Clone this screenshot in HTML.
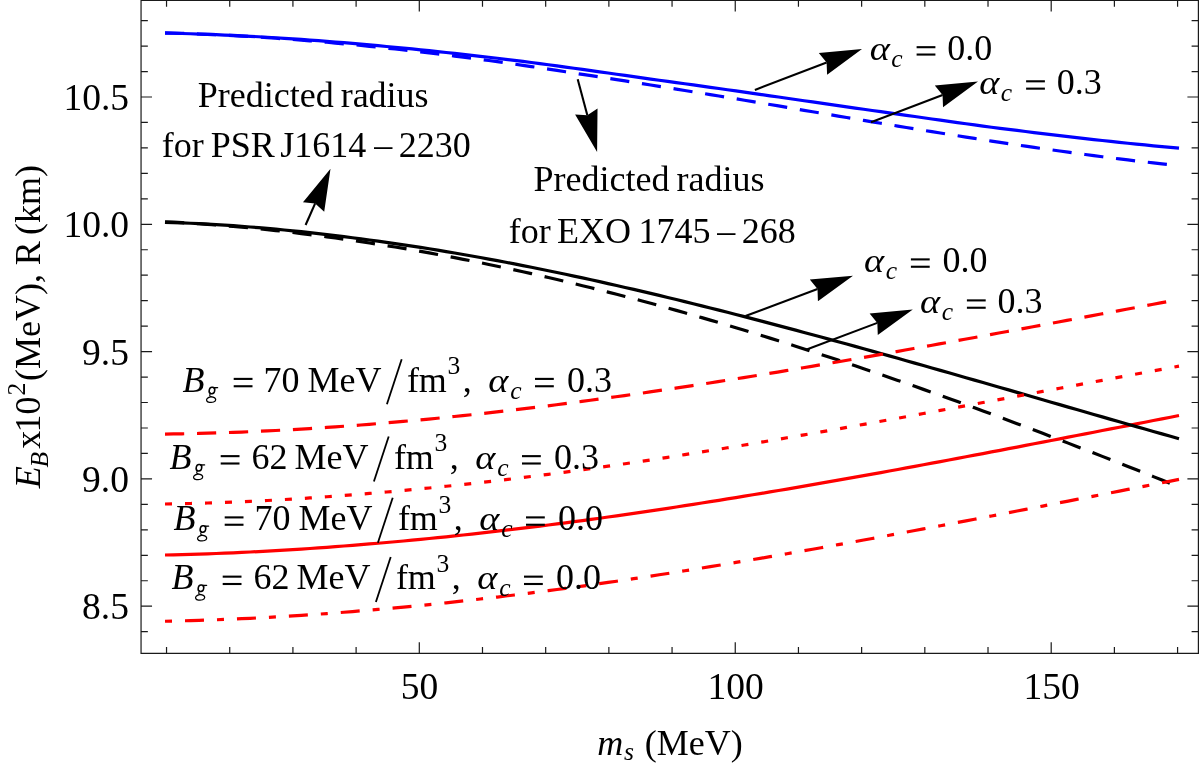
<!DOCTYPE html>
<html><head><meta charset="utf-8"><title>plot</title>
<style>html,body{margin:0;padding:0;background:#fff}svg{display:block;will-change:transform}text{font-family:"Liberation Serif",serif;fill:#000}</style>
</head><body>
<svg width="1199" height="763" viewBox="0 0 1199 763">
<rect width="1199" height="763" fill="#fff"/>
<path d="M165.0,555.00 L173.5,554.81 L182.0,554.59 L190.6,554.35 L199.1,554.08 L207.6,553.79 L216.1,553.48 L224.6,553.14 L233.2,552.78 L241.7,552.39 L250.2,551.98 L258.7,551.55 L267.3,551.10 L275.8,550.62 L284.3,550.12 L292.8,549.60 L301.3,549.05 L309.9,548.49 L318.4,547.90 L326.9,547.29 L335.4,546.66 L343.9,546.01 L352.5,545.34 L361.0,544.65 L369.5,543.96 L378.0,543.24 L386.5,542.50 L395.1,541.74 L403.6,540.97 L412.1,540.17 L420.6,539.36 L429.2,538.52 L437.7,537.67 L446.2,536.80 L454.7,535.91 L463.2,535.01 L471.8,534.08 L480.3,533.14 L488.8,532.18 L497.3,531.20 L505.8,530.21 L514.4,529.20 L522.9,528.18 L531.4,527.13 L539.9,526.08 L548.4,525.00 L557.0,523.91 L565.5,522.81 L574.0,521.69 L582.5,520.55 L591.1,519.40 L599.6,518.24 L608.1,517.04 L616.6,515.84 L625.1,514.61 L633.7,513.38 L642.2,512.13 L650.7,510.87 L659.2,509.59 L667.7,508.31 L676.3,507.01 L684.8,505.69 L693.3,504.37 L701.8,503.03 L710.3,501.68 L718.9,500.32 L727.4,498.95 L735.9,497.57 L744.4,496.17 L752.9,494.77 L761.5,493.35 L770.0,491.93 L778.5,490.49 L787.0,489.05 L795.6,487.59 L804.1,486.13 L812.6,484.65 L821.1,483.17 L829.6,481.68 L838.2,480.18 L846.7,478.67 L855.2,477.15 L863.7,475.63 L872.2,474.10 L880.8,472.56 L889.3,471.01 L897.8,469.45 L906.3,467.89 L914.8,466.32 L923.4,464.75 L931.9,463.17 L940.4,461.58 L948.9,459.99 L957.5,458.39 L966.0,456.79 L974.5,455.18 L983.0,453.56 L991.5,451.94 L1000.1,450.32 L1008.6,448.69 L1017.1,447.06 L1025.6,445.42 L1034.1,443.78 L1042.7,442.14 L1051.2,440.49 L1059.7,438.84 L1068.2,437.19 L1076.7,435.54 L1085.3,433.88 L1093.8,432.22 L1102.3,430.55 L1110.8,428.89 L1119.4,427.22 L1127.9,425.56 L1136.4,423.89 L1144.9,422.22 L1153.4,420.55 L1162.0,418.88 L1170.5,417.21 L1179.0,415.54" fill="none" stroke="#ff0000" stroke-width="3.2"/>
<path d="M165.0,222.31 L173.5,222.58 L182.0,222.90 L190.6,223.27 L199.1,223.68 L207.6,224.12 L216.1,224.61 L224.6,225.15 L233.2,225.72 L241.7,226.33 L250.2,226.98 L258.7,227.67 L267.3,228.40 L275.8,229.17 L284.3,229.98 L292.8,230.82 L301.3,231.71 L309.9,232.62 L318.4,233.58 L326.9,234.57 L335.4,235.60 L343.9,236.66 L352.5,237.75 L361.0,238.84 L369.5,239.97 L378.0,241.13 L386.5,242.32 L395.1,243.55 L403.6,244.81 L412.1,246.10 L420.6,247.42 L429.2,248.78 L437.7,250.16 L446.2,251.57 L454.7,253.02 L463.2,254.49 L471.8,255.99 L480.3,257.52 L488.8,259.08 L497.3,260.66 L505.8,262.27 L514.4,263.91 L522.9,265.58 L531.4,267.27 L539.9,268.98 L548.4,270.73 L557.0,272.49 L565.5,274.28 L574.0,276.09 L582.5,277.93 L591.1,279.79 L599.6,281.67 L608.1,283.57 L616.6,285.50 L625.1,287.44 L633.7,289.41 L642.2,291.40 L650.7,293.40 L659.2,295.43 L667.7,297.47 L676.3,299.54 L684.8,301.62 L693.3,303.72 L701.8,305.83 L710.3,307.97 L718.9,310.12 L727.4,312.28 L735.9,314.46 L744.4,316.66 L752.9,318.87 L761.5,321.09 L770.0,323.33 L778.5,325.59 L787.0,327.85 L795.6,330.13 L804.1,332.42 L812.6,334.72 L821.1,337.03 L829.6,339.36 L838.2,341.69 L846.7,344.04 L855.2,346.39 L863.7,348.75 L872.2,351.12 L880.8,353.50 L889.3,355.89 L897.8,358.29 L906.3,360.69 L914.8,363.10 L923.4,365.51 L931.9,367.93 L940.4,370.36 L948.9,372.79 L957.5,375.23 L966.0,377.67 L974.5,380.11 L983.0,382.55 L991.5,385.00 L1000.1,387.45 L1008.6,389.91 L1017.1,392.36 L1025.6,394.82 L1034.1,397.27 L1042.7,399.73 L1051.2,402.19 L1059.7,404.64 L1068.2,407.10 L1076.7,409.55 L1085.3,412.00 L1093.8,414.45 L1102.3,416.90 L1110.8,419.34 L1119.4,421.78 L1127.9,424.21 L1136.4,426.64 L1144.9,429.07 L1153.4,431.49 L1162.0,433.90 L1170.5,436.31 L1179.0,438.71" fill="none" stroke="#000" stroke-width="3.2"/>
<path d="M165.0,221.79 L173.5,222.22 L182.0,222.70 L190.6,223.21 L199.1,223.77 L207.6,224.37 L216.1,225.01 L224.6,225.69 L233.2,226.40 L241.7,227.16 L250.2,227.96 L258.7,228.79 L267.3,229.67 L275.8,230.58 L284.3,231.53 L292.8,232.51 L301.3,233.54 L309.9,234.60 L318.4,235.70 L326.9,236.84 L335.4,238.01 L343.9,239.22 L352.5,240.45 L361.0,241.70 L369.5,242.98 L378.0,244.29 L386.5,245.64 L395.1,247.02 L403.6,248.44 L412.1,249.89 L420.6,251.38 L429.2,252.90 L437.7,254.45 L446.2,256.04 L454.7,257.65 L463.2,259.31 L471.8,260.99 L480.3,262.70 L488.8,264.45 L497.3,266.23 L505.8,268.04 L514.4,269.88 L522.9,271.75 L531.4,273.65 L539.9,275.58 L548.4,277.54 L557.0,279.54 L565.5,281.56 L574.0,283.60 L582.5,285.68 L591.1,287.79 L599.6,289.92 L608.1,292.09 L616.6,294.28 L625.1,296.50 L633.7,298.74 L642.2,301.01 L650.7,303.31 L659.2,305.64 L667.7,307.99 L676.3,310.37 L684.8,312.77 L693.3,315.20 L701.8,317.65 L710.3,320.13 L718.9,322.63 L727.4,325.16 L735.9,327.71 L744.4,330.28 L752.9,332.88 L761.5,335.50 L770.0,338.15 L778.5,340.81 L787.0,343.50 L795.6,346.22 L804.1,348.95 L812.6,351.70 L821.1,354.48 L829.6,357.28 L838.2,360.10 L846.7,362.94 L855.2,365.80 L863.7,368.68 L872.2,371.58 L880.8,374.49 L889.3,377.43 L897.8,380.39 L906.3,383.37 L914.8,386.36 L923.4,389.37 L931.9,392.40 L940.4,395.45 L948.9,398.52 L957.5,401.60 L966.0,404.70 L974.5,407.82 L983.0,410.95 L991.5,414.10 L1000.1,417.26 L1008.6,420.44 L1017.1,423.64 L1025.6,426.85 L1034.1,430.07 L1042.7,433.31 L1051.2,436.57 L1059.7,439.83 L1068.2,443.12 L1076.7,446.41 L1085.3,449.72 L1093.8,453.04 L1102.3,456.37 L1110.8,459.72 L1119.4,463.08 L1127.9,466.45 L1136.4,469.83 L1144.9,473.22 L1153.4,476.63 L1162.0,480.04 L1170.5,483.47 L1179.0,486.90" fill="none" stroke="#000" stroke-width="3.2" stroke-dasharray="19.2 12.8"/>
<path d="M165.0,33.05 L173.5,33.25 L182.0,33.48 L190.6,33.74 L199.1,34.03 L207.6,34.34 L216.1,34.68 L224.6,35.04 L233.2,35.44 L241.7,35.85 L250.2,36.29 L258.7,36.76 L267.3,37.25 L275.8,37.77 L284.3,38.31 L292.8,38.87 L301.3,39.45 L309.9,40.06 L318.4,40.69 L326.9,41.34 L335.4,42.01 L343.9,42.70 L352.5,43.42 L361.0,44.15 L369.5,44.90 L378.0,45.67 L386.5,46.47 L395.1,47.27 L403.6,48.10 L412.1,48.95 L420.6,49.81 L429.2,50.69 L437.7,51.58 L446.2,52.50 L454.7,53.42 L463.2,54.37 L471.8,55.32 L480.3,56.29 L488.8,57.28 L497.3,58.28 L505.8,59.29 L514.4,60.32 L522.9,61.38 L531.4,62.50 L539.9,63.62 L548.4,64.76 L557.0,65.91 L565.5,67.07 L574.0,68.24 L582.5,69.42 L591.1,70.61 L599.6,71.81 L608.1,73.02 L616.6,74.23 L625.1,75.45 L633.7,76.69 L642.2,77.90 L650.7,79.06 L659.2,80.23 L667.7,81.40 L676.3,82.58 L684.8,83.76 L693.3,84.95 L701.8,86.14 L710.3,87.33 L718.9,88.53 L727.4,89.73 L735.9,90.94 L744.4,92.15 L752.9,93.36 L761.5,94.57 L770.0,95.80 L778.5,97.03 L787.0,98.25 L795.6,99.48 L804.1,100.71 L812.6,101.94 L821.1,103.17 L829.6,104.39 L838.2,105.62 L846.7,106.84 L855.2,108.06 L863.7,109.27 L872.2,110.48 L880.8,111.69 L889.3,112.89 L897.8,114.09 L906.3,115.31 L914.8,116.54 L923.4,117.75 L931.9,118.97 L940.4,120.17 L948.9,121.37 L957.5,122.56 L966.0,123.74 L974.5,124.92 L983.0,126.08 L991.5,127.23 L1000.1,128.32 L1008.6,129.39 L1017.1,130.46 L1025.6,131.52 L1034.1,132.57 L1042.7,133.60 L1051.2,134.63 L1059.7,135.64 L1068.2,136.64 L1076.7,137.63 L1085.3,138.60 L1093.8,139.56 L1102.3,140.50 L1110.8,141.42 L1119.4,142.33 L1127.9,143.22 L1136.4,144.09 L1144.9,144.95 L1153.4,145.79 L1162.0,146.61 L1170.5,147.42 L1179.0,148.21" fill="none" stroke="#0000ff" stroke-width="3.2"/>
<path d="M165.0,32.92 L173.5,33.14 L182.0,33.39 L190.6,33.67 L199.1,33.99 L207.6,34.34 L216.1,34.72 L224.6,35.13 L233.2,35.57 L241.7,36.05 L250.2,36.55 L258.7,37.08 L267.3,37.65 L275.8,38.24 L284.3,38.86 L292.8,39.50 L301.3,40.17 L309.9,40.85 L318.4,41.56 L326.9,42.28 L335.4,43.04 L343.9,43.82 L352.5,44.63 L361.0,45.46 L369.5,46.31 L378.0,47.19 L386.5,48.09 L395.1,49.01 L403.6,49.96 L412.1,50.92 L420.6,51.91 L429.2,52.92 L437.7,53.95 L446.2,55.00 L454.7,56.07 L463.2,57.15 L471.8,58.26 L480.3,59.38 L488.8,60.52 L497.3,61.68 L505.8,62.88 L514.4,64.10 L522.9,65.34 L531.4,66.59 L539.9,67.86 L548.4,69.14 L557.0,70.44 L565.5,71.75 L574.0,73.07 L582.5,74.39 L591.1,75.68 L599.6,76.98 L608.1,78.30 L616.6,79.62 L625.1,80.95 L633.7,82.29 L642.2,83.64 L650.7,85.00 L659.2,86.36 L667.7,87.72 L676.3,89.09 L684.8,90.46 L693.3,91.84 L701.8,93.23 L710.3,94.62 L718.9,96.01 L727.4,97.41 L735.9,98.81 L744.4,100.22 L752.9,101.63 L761.5,103.05 L770.0,104.50 L778.5,105.95 L787.0,107.40 L795.6,108.85 L804.1,110.30 L812.6,111.75 L821.1,113.20 L829.6,114.65 L838.2,116.09 L846.7,117.54 L855.2,118.97 L863.7,120.41 L872.2,121.84 L880.8,123.26 L889.3,124.68 L897.8,126.09 L906.3,127.50 L914.8,128.89 L923.4,130.28 L931.9,131.67 L940.4,133.04 L948.9,134.40 L957.5,135.76 L966.0,137.10 L974.5,138.43 L983.0,139.75 L991.5,141.06 L1000.1,142.36 L1008.6,143.64 L1017.1,144.91 L1025.6,146.17 L1034.1,147.41 L1042.7,148.63 L1051.2,149.84 L1059.7,151.04 L1068.2,152.21 L1076.7,153.37 L1085.3,154.51 L1093.8,155.64 L1102.3,156.74 L1110.8,157.82 L1119.4,158.89 L1127.9,159.93 L1136.4,160.95 L1144.9,161.95 L1153.4,162.93 L1162.0,163.88 L1170.5,164.82 L1179.0,165.72" fill="none" stroke="#0000ff" stroke-width="3.2" stroke-dasharray="19.2 12.8"/>
<path d="M165.0,434.09 L173.5,433.97 L182.0,433.82 L190.5,433.64 L199.0,433.44 L207.5,433.21 L216.1,432.96 L224.6,432.68 L233.1,432.37 L241.6,432.05 L250.1,431.69 L258.6,431.32 L267.1,430.91 L275.6,430.49 L284.1,430.04 L292.6,429.57 L301.1,429.08 L309.6,428.56 L318.2,428.02 L326.7,427.46 L335.2,426.87 L343.7,426.27 L352.2,425.64 L360.7,424.99 L369.2,424.32 L377.7,423.63 L386.2,422.92 L394.7,422.18 L403.2,421.43 L411.7,420.66 L420.3,419.87 L428.8,419.06 L437.3,418.23 L445.8,417.38 L454.3,416.51 L462.8,415.63 L471.3,414.72 L479.8,413.80 L488.3,412.86 L496.8,411.90 L505.3,410.93 L513.8,409.93 L522.4,408.93 L530.9,407.90 L539.4,406.86 L547.9,405.80 L556.4,404.73 L564.9,403.64 L573.4,402.53 L581.9,401.42 L590.4,400.28 L598.9,399.13 L607.4,397.97 L615.9,396.79 L624.5,395.60 L633.0,394.39 L641.5,393.18 L650.0,391.94 L658.5,390.70 L667.0,389.44 L675.5,388.17 L684.0,386.89 L692.5,385.60 L701.0,384.29 L709.5,382.97 L718.0,381.64 L726.6,380.30 L735.1,378.95 L743.6,377.59 L752.1,376.22 L760.6,374.84 L769.1,373.45 L777.6,372.05 L786.1,370.64 L794.6,369.22 L803.1,367.79 L811.6,366.35 L820.1,364.90 L828.7,363.45 L837.2,361.99 L845.7,360.52 L854.2,359.04 L862.7,357.56 L871.2,356.07 L879.7,354.57 L888.2,353.07 L896.7,351.55 L905.2,350.04 L913.7,348.52 L922.2,346.99 L930.8,345.45 L939.3,343.92 L947.8,342.37 L956.3,340.83 L964.8,339.27 L973.3,337.72 L981.8,336.16 L990.3,334.59 L998.8,333.03 L1007.3,331.45 L1015.8,329.88 L1024.3,328.31 L1032.9,326.73 L1041.4,325.15 L1049.9,323.56 L1058.4,321.98 L1066.9,320.39 L1075.4,318.81 L1083.9,317.22 L1092.4,315.63 L1100.9,314.04 L1109.4,312.45 L1117.9,310.86 L1126.4,309.27 L1135.0,307.68 L1143.5,306.09 L1152.0,304.51 L1160.5,302.92 L1169.0,301.33 L1177.5,299.75" fill="none" stroke="#ff0000" stroke-width="3.2" stroke-dasharray="19.2 12.8"/>
<path d="M165.0,504.00 L173.5,503.85 L182.0,503.68 L190.6,503.48 L199.1,503.26 L207.6,503.00 L216.1,502.72 L224.6,502.42 L233.2,502.09 L241.7,501.73 L250.2,501.34 L258.7,500.93 L267.3,500.50 L275.8,500.04 L284.3,499.56 L292.8,499.05 L301.3,498.51 L309.9,497.96 L318.4,497.38 L326.9,496.77 L335.4,496.15 L343.9,495.50 L352.5,494.83 L361.0,494.14 L369.5,493.44 L378.0,492.73 L386.5,491.99 L395.1,491.23 L403.6,490.45 L412.1,489.65 L420.6,488.84 L429.2,488.00 L437.7,487.14 L446.2,486.26 L454.7,485.36 L463.2,484.44 L471.8,483.51 L480.3,482.55 L488.8,481.58 L497.3,480.59 L505.8,479.58 L514.4,478.56 L522.9,477.52 L531.4,476.46 L539.9,475.38 L548.4,474.29 L557.0,473.18 L565.5,472.06 L574.0,470.92 L582.5,469.77 L591.1,468.60 L599.6,467.42 L608.1,466.20 L616.6,464.97 L625.1,463.72 L633.7,462.46 L642.2,461.19 L650.7,459.91 L659.2,458.61 L667.7,457.30 L676.3,455.97 L684.8,454.64 L693.3,453.29 L701.8,451.93 L710.3,450.56 L718.9,449.18 L727.4,447.79 L735.9,446.39 L744.4,444.98 L752.9,443.56 L761.5,442.13 L770.0,440.69 L778.5,439.25 L787.0,437.79 L795.6,436.33 L804.1,434.85 L812.6,433.37 L821.1,431.88 L829.6,430.39 L838.2,428.89 L846.7,427.38 L855.2,425.86 L863.7,424.34 L872.2,422.81 L880.8,421.28 L889.3,419.74 L897.8,418.20 L906.3,416.65 L914.8,415.10 L923.4,413.54 L931.9,411.98 L940.4,410.41 L948.9,408.84 L957.5,407.27 L966.0,405.70 L974.5,404.12 L983.0,402.54 L991.5,400.96 L1000.1,399.37 L1008.6,397.79 L1017.1,396.20 L1025.6,394.61 L1034.1,393.02 L1042.7,391.44 L1051.2,389.85 L1059.7,388.26 L1068.2,386.67 L1076.7,385.08 L1085.3,383.49 L1093.8,381.91 L1102.3,380.32 L1110.8,378.74 L1119.4,377.16 L1127.9,375.58 L1136.4,374.00 L1144.9,372.43 L1153.4,370.86 L1162.0,369.29 L1170.5,367.72 L1179.0,366.16" fill="none" stroke="#ff0000" stroke-width="3.2" stroke-dasharray="7 13"/>
<path d="M165.0,621.23 L173.5,621.05 L182.0,620.85 L190.6,620.62 L199.1,620.36 L207.6,620.08 L216.1,619.77 L224.6,619.44 L233.2,619.08 L241.7,618.70 L250.2,618.29 L258.7,617.86 L267.3,617.40 L275.8,616.92 L284.3,616.42 L292.8,615.89 L301.3,615.34 L309.9,614.76 L318.4,614.17 L326.9,613.55 L335.4,612.91 L343.9,612.24 L352.5,611.56 L361.0,610.85 L369.5,610.14 L378.0,609.40 L386.5,608.65 L395.1,607.87 L403.6,607.08 L412.1,606.26 L420.6,605.42 L429.2,604.57 L437.7,603.69 L446.2,602.80 L454.7,601.88 L463.2,600.95 L471.8,600.00 L480.3,599.03 L488.8,598.04 L497.3,597.04 L505.8,596.01 L514.4,594.97 L522.9,593.92 L531.4,592.84 L539.9,591.75 L548.4,590.65 L557.0,589.53 L565.5,588.39 L574.0,587.23 L582.5,586.06 L591.1,584.88 L599.6,583.68 L608.1,582.45 L616.6,581.21 L625.1,579.96 L633.7,578.69 L642.2,577.40 L650.7,576.10 L659.2,574.79 L667.7,573.47 L676.3,572.13 L684.8,570.79 L693.3,569.43 L701.8,568.05 L710.3,566.67 L718.9,565.27 L727.4,563.86 L735.9,562.45 L744.4,561.02 L752.9,559.58 L761.5,558.13 L770.0,556.67 L778.5,555.20 L787.0,553.72 L795.6,552.23 L804.1,550.73 L812.6,549.22 L821.1,547.71 L829.6,546.19 L838.2,544.65 L846.7,543.11 L855.2,541.57 L863.7,540.01 L872.2,538.45 L880.8,536.88 L889.3,535.30 L897.8,533.72 L906.3,532.13 L914.8,530.54 L923.4,528.94 L931.9,527.33 L940.4,525.72 L948.9,524.10 L957.5,522.48 L966.0,520.86 L974.5,519.23 L983.0,517.59 L991.5,515.96 L1000.1,514.31 L1008.6,512.67 L1017.1,511.02 L1025.6,509.37 L1034.1,507.72 L1042.7,506.06 L1051.2,504.40 L1059.7,502.74 L1068.2,501.08 L1076.7,499.42 L1085.3,497.75 L1093.8,496.09 L1102.3,494.42 L1110.8,492.75 L1119.4,491.09 L1127.9,489.42 L1136.4,487.75 L1144.9,486.09 L1153.4,484.42 L1162.0,482.76 L1170.5,481.09 L1179.0,479.43" fill="none" stroke="#ff0000" stroke-width="3.2" stroke-dasharray="7 13 19 13"/>
<path d="M141.05,0.5 L141.05,653.3 L1198.4,653.3 L1198.4,0.5 Z M166.54,653.3 v-6.3 M166.54,0.5 v6.3 M229.73,653.3 v-6.3 M229.73,0.5 v6.3 M292.92,653.3 v-6.3 M292.92,0.5 v6.3 M356.11,653.3 v-6.3 M356.11,0.5 v6.3 M419.30,653.3 v-11 M419.30,0.5 v11 M482.49,653.3 v-6.3 M482.49,0.5 v6.3 M545.68,653.3 v-6.3 M545.68,0.5 v6.3 M608.87,653.3 v-6.3 M608.87,0.5 v6.3 M672.06,653.3 v-6.3 M672.06,0.5 v6.3 M735.25,653.3 v-11 M735.25,0.5 v11 M798.44,653.3 v-6.3 M798.44,0.5 v6.3 M861.63,653.3 v-6.3 M861.63,0.5 v6.3 M924.82,653.3 v-6.3 M924.82,0.5 v6.3 M988.01,653.3 v-6.3 M988.01,0.5 v6.3 M1051.20,653.3 v-11 M1051.20,0.5 v11 M1114.39,653.3 v-6.3 M1114.39,0.5 v6.3 M1177.58,653.3 v-6.3 M1177.58,0.5 v6.3 M141.05,631.66 h6.8 M1198.4,631.66 h-6.8 M141.05,606.20 h11 M1198.4,606.20 h-11 M141.05,580.74 h6.8 M1198.4,580.74 h-6.8 M141.05,555.28 h6.8 M1198.4,555.28 h-6.8 M141.05,529.82 h6.8 M1198.4,529.82 h-6.8 M141.05,504.36 h6.8 M1198.4,504.36 h-6.8 M141.05,478.90 h11 M1198.4,478.90 h-11 M141.05,453.44 h6.8 M1198.4,453.44 h-6.8 M141.05,427.98 h6.8 M1198.4,427.98 h-6.8 M141.05,402.52 h6.8 M1198.4,402.52 h-6.8 M141.05,377.06 h6.8 M1198.4,377.06 h-6.8 M141.05,351.60 h11 M1198.4,351.60 h-11 M141.05,326.14 h6.8 M1198.4,326.14 h-6.8 M141.05,300.68 h6.8 M1198.4,300.68 h-6.8 M141.05,275.22 h6.8 M1198.4,275.22 h-6.8 M141.05,249.76 h6.8 M1198.4,249.76 h-6.8 M141.05,224.30 h11 M1198.4,224.30 h-11 M141.05,198.84 h6.8 M1198.4,198.84 h-6.8 M141.05,173.38 h6.8 M1198.4,173.38 h-6.8 M141.05,147.92 h6.8 M1198.4,147.92 h-6.8 M141.05,122.46 h6.8 M1198.4,122.46 h-6.8 M141.05,97.00 h11 M1198.4,97.00 h-11 M141.05,71.54 h6.8 M1198.4,71.54 h-6.8 M141.05,46.08 h6.8 M1198.4,46.08 h-6.8 M141.05,20.62 h6.8 M1198.4,20.62 h-6.8" fill="none" stroke="#1a1a1a" stroke-width="1.2"/>
<text x="63.38" y="109.90" font-size="37.5">10.5</text>
<text x="63.38" y="237.20" font-size="37.5">10.0</text>
<text x="82.12" y="364.50" font-size="37.5">9.5</text>
<text x="82.12" y="491.80" font-size="37.5">9.0</text>
<text x="82.12" y="619.10" font-size="37.5">8.5</text>
<text x="400.85" y="698.50" font-size="37.5">50</text>
<text x="707.42" y="698.50" font-size="37.5">100</text>
<text x="1023.38" y="698.50" font-size="37.5">150</text>
<line x1="754.90" y1="89.90" x2="826.60" y2="62.45" stroke="#000" stroke-width="2.1"/>
<path d="M862.00,48.90 L827.11,74.68 L826.60,62.45 L818.82,53.01 Z" fill="#000"/>
<line x1="871.00" y1="122.20" x2="942.57" y2="95.05" stroke="#000" stroke-width="2.1"/>
<path d="M978.00,81.60 L943.03,107.27 L942.57,95.05 L934.80,85.58 Z" fill="#000"/>
<line x1="745.50" y1="316.00" x2="817.51" y2="289.04" stroke="#000" stroke-width="2.1"/>
<path d="M853.00,275.75 L817.92,301.27 L817.51,289.04 L809.79,279.54 Z" fill="#000"/>
<line x1="806.00" y1="349.80" x2="877.34" y2="322.88" stroke="#000" stroke-width="2.1"/>
<path d="M912.80,309.50 L877.79,335.11 L877.34,322.88 L869.60,313.40 Z" fill="#000"/>
<line x1="305.60" y1="225.00" x2="315.16" y2="203.41" stroke="#000" stroke-width="2.1"/>
<path d="M330.50,168.75 L324.19,211.67 L315.16,203.41 L302.97,202.28 Z" fill="#000"/>
<line x1="577.70" y1="79.20" x2="587.33" y2="115.28" stroke="#000" stroke-width="2.1"/>
<path d="M597.10,151.90 L575.11,114.50 L587.33,115.28 L597.53,108.52 Z" fill="#000"/>
<text transform="translate(869.63,59.80) scale(1.065,0.935)" font-size="36" font-style="italic">α</text>
<text x="891.35" y="67.00" font-size="25.6" font-style="italic">c</text>
<rect x="916.60" y="46.15" width="18.8" height="2.1" fill="#000"/>
<rect x="916.60" y="53.50" width="18.8" height="2.1" fill="#000"/>
<text x="947.33" y="59.80" font-size="36">0.0</text>
<text transform="translate(979.13,93.90) scale(1.065,0.935)" font-size="36" font-style="italic">α</text>
<text x="1000.85" y="101.10" font-size="25.6" font-style="italic">c</text>
<rect x="1026.10" y="80.25" width="18.8" height="2.1" fill="#000"/>
<rect x="1026.10" y="87.60" width="18.8" height="2.1" fill="#000"/>
<text x="1056.83" y="93.90" font-size="36">0.3</text>
<text transform="translate(863.93,272.00) scale(1.065,0.935)" font-size="36" font-style="italic">α</text>
<text x="885.65" y="279.20" font-size="25.6" font-style="italic">c</text>
<rect x="910.90" y="258.35" width="18.8" height="2.1" fill="#000"/>
<rect x="910.90" y="265.70" width="18.8" height="2.1" fill="#000"/>
<text x="942.62" y="272.00" font-size="36">0.0</text>
<text transform="translate(919.93,313.00) scale(1.065,0.935)" font-size="36" font-style="italic">α</text>
<text x="941.65" y="320.20" font-size="25.6" font-style="italic">c</text>
<rect x="966.90" y="299.35" width="18.8" height="2.1" fill="#000"/>
<rect x="966.90" y="306.70" width="18.8" height="2.1" fill="#000"/>
<text x="997.62" y="313.00" font-size="36">0.3</text>
<text x="197.80" y="106.80" font-size="36">Predicted</text>
<text x="340.65" y="106.80" font-size="36">radius</text>
<text x="161.68" y="157.40" font-size="36">for</text>
<text x="210.80" y="157.40" font-size="36">PSR</text>
<text x="280.25" y="157.40" font-size="36">J1614</text>
<text x="374.25" y="157.40" font-size="36">–</text>
<text x="398.77" y="157.40" font-size="36">2230</text>
<text x="533.50" y="191.00" font-size="36">Predicted</text>
<text x="676.45" y="191.00" font-size="36">radius</text>
<text x="508.77" y="242.60" font-size="36">for</text>
<text x="557.10" y="242.60" font-size="36">EXO</text>
<text x="638.58" y="242.60" font-size="36">1745</text>
<text x="717.15" y="242.60" font-size="36">–</text>
<text x="741.67" y="242.60" font-size="36">268</text>
<text x="182.62" y="391.50" font-size="36" font-style="italic">B</text>
<g transform="translate(205.80,391.50)" fill="none" stroke="#000" stroke-linecap="round"><ellipse cx="6.15" cy="-1.0" rx="2.75" ry="3.25" transform="rotate(14 6.15 -1.0)" stroke-width="1.55"/><path d="M8.4,-3.75 L11.8,-3.85" stroke-width="1.3"/><path d="M4.9,1.9 C3.6,3.2 3.4,4.6 5.2,5.3" stroke-width="1.15"/><path d="M5.0,5.2 C7.6,5.6 10.0,6.4 9.9,8.3 C9.7,10.4 6.6,11.3 3.6,10.8 C0.9,10.3 0.1,8.6 1.3,7.1 C2.0,6.2 3.3,5.6 4.6,5.3" stroke-width="1.25"/></g>
<rect x="233.70" y="377.85" width="18.8" height="2.1" fill="#000"/>
<rect x="233.70" y="385.20" width="18.8" height="2.1" fill="#000"/>
<text x="263.52" y="391.50" font-size="36">70</text>
<text x="307.50" y="391.50" font-size="36">MeV</text>
<line x1="386.90" y1="404.30" x2="401.70" y2="359.20" stroke="#000" stroke-width="1.8"/>
<text x="406.88" y="391.50" font-size="36">fm</text>
<text x="447.45" y="374.10" font-size="25.6">3</text>
<text x="462.82" y="391.50" font-size="36">,</text>
<text transform="translate(488.24,391.50) scale(1.065,0.935)" font-size="36" font-style="italic">α</text>
<text x="510.25" y="398.70" font-size="25.6" font-style="italic">c</text>
<rect x="535.00" y="377.85" width="18.8" height="2.1" fill="#000"/>
<rect x="535.00" y="385.20" width="18.8" height="2.1" fill="#000"/>
<text x="567.12" y="391.50" font-size="36">0.3</text>
<text x="169.62" y="468.75" font-size="36" font-style="italic">B</text>
<g transform="translate(192.80,468.75)" fill="none" stroke="#000" stroke-linecap="round"><ellipse cx="6.15" cy="-1.0" rx="2.75" ry="3.25" transform="rotate(14 6.15 -1.0)" stroke-width="1.55"/><path d="M8.4,-3.75 L11.8,-3.85" stroke-width="1.3"/><path d="M4.9,1.9 C3.6,3.2 3.4,4.6 5.2,5.3" stroke-width="1.15"/><path d="M5.0,5.2 C7.6,5.6 10.0,6.4 9.9,8.3 C9.7,10.4 6.6,11.3 3.6,10.8 C0.9,10.3 0.1,8.6 1.3,7.1 C2.0,6.2 3.3,5.6 4.6,5.3" stroke-width="1.25"/></g>
<rect x="220.70" y="455.10" width="18.8" height="2.1" fill="#000"/>
<rect x="220.70" y="462.45" width="18.8" height="2.1" fill="#000"/>
<text x="251.40" y="468.75" font-size="36">62</text>
<text x="294.50" y="468.75" font-size="36">MeV</text>
<line x1="373.90" y1="481.55" x2="388.70" y2="436.45" stroke="#000" stroke-width="1.8"/>
<text x="393.88" y="468.75" font-size="36">fm</text>
<text x="434.45" y="451.35" font-size="25.6">3</text>
<text x="449.82" y="468.75" font-size="36">,</text>
<text transform="translate(475.24,468.75) scale(1.065,0.935)" font-size="36" font-style="italic">α</text>
<text x="497.25" y="475.95" font-size="25.6" font-style="italic">c</text>
<rect x="522.00" y="455.10" width="18.8" height="2.1" fill="#000"/>
<rect x="522.00" y="462.45" width="18.8" height="2.1" fill="#000"/>
<text x="554.12" y="468.75" font-size="36">0.3</text>
<text x="173.62" y="530.00" font-size="36" font-style="italic">B</text>
<g transform="translate(196.80,530.00)" fill="none" stroke="#000" stroke-linecap="round"><ellipse cx="6.15" cy="-1.0" rx="2.75" ry="3.25" transform="rotate(14 6.15 -1.0)" stroke-width="1.55"/><path d="M8.4,-3.75 L11.8,-3.85" stroke-width="1.3"/><path d="M4.9,1.9 C3.6,3.2 3.4,4.6 5.2,5.3" stroke-width="1.15"/><path d="M5.0,5.2 C7.6,5.6 10.0,6.4 9.9,8.3 C9.7,10.4 6.6,11.3 3.6,10.8 C0.9,10.3 0.1,8.6 1.3,7.1 C2.0,6.2 3.3,5.6 4.6,5.3" stroke-width="1.25"/></g>
<rect x="224.70" y="516.35" width="18.8" height="2.1" fill="#000"/>
<rect x="224.70" y="523.70" width="18.8" height="2.1" fill="#000"/>
<text x="254.52" y="530.00" font-size="36">70</text>
<text x="298.50" y="530.00" font-size="36">MeV</text>
<line x1="377.90" y1="542.80" x2="392.70" y2="497.70" stroke="#000" stroke-width="1.8"/>
<text x="397.88" y="530.00" font-size="36">fm</text>
<text x="438.45" y="512.60" font-size="25.6">3</text>
<text x="453.82" y="530.00" font-size="36">,</text>
<text transform="translate(479.24,530.00) scale(1.065,0.935)" font-size="36" font-style="italic">α</text>
<text x="501.25" y="537.20" font-size="25.6" font-style="italic">c</text>
<rect x="526.00" y="516.35" width="18.8" height="2.1" fill="#000"/>
<rect x="526.00" y="523.70" width="18.8" height="2.1" fill="#000"/>
<text x="558.12" y="530.00" font-size="36">0.0</text>
<text x="171.62" y="589.25" font-size="36" font-style="italic">B</text>
<g transform="translate(194.80,589.25)" fill="none" stroke="#000" stroke-linecap="round"><ellipse cx="6.15" cy="-1.0" rx="2.75" ry="3.25" transform="rotate(14 6.15 -1.0)" stroke-width="1.55"/><path d="M8.4,-3.75 L11.8,-3.85" stroke-width="1.3"/><path d="M4.9,1.9 C3.6,3.2 3.4,4.6 5.2,5.3" stroke-width="1.15"/><path d="M5.0,5.2 C7.6,5.6 10.0,6.4 9.9,8.3 C9.7,10.4 6.6,11.3 3.6,10.8 C0.9,10.3 0.1,8.6 1.3,7.1 C2.0,6.2 3.3,5.6 4.6,5.3" stroke-width="1.25"/></g>
<rect x="222.70" y="575.60" width="18.8" height="2.1" fill="#000"/>
<rect x="222.70" y="582.95" width="18.8" height="2.1" fill="#000"/>
<text x="253.40" y="589.25" font-size="36">62</text>
<text x="296.50" y="589.25" font-size="36">MeV</text>
<line x1="375.90" y1="602.05" x2="390.70" y2="556.95" stroke="#000" stroke-width="1.8"/>
<text x="395.88" y="589.25" font-size="36">fm</text>
<text x="436.45" y="571.85" font-size="25.6">3</text>
<text x="451.82" y="589.25" font-size="36">,</text>
<text transform="translate(477.24,589.25) scale(1.065,0.935)" font-size="36" font-style="italic">α</text>
<text x="499.25" y="596.45" font-size="25.6" font-style="italic">c</text>
<rect x="524.00" y="575.60" width="18.8" height="2.1" fill="#000"/>
<rect x="524.00" y="582.95" width="18.8" height="2.1" fill="#000"/>
<text x="556.12" y="589.25" font-size="36">0.0</text>
<text x="597.25" y="754.50" font-size="36" font-style="italic">m</text>
<text x="624.12" y="760.20" font-size="25.6" font-style="italic">s</text>
<text x="644.67" y="754.50" font-size="36">(MeV)</text>
<g transform="translate(39.7,486.3) rotate(-90)"><text x="-1.83" y="0.00" font-size="36" font-style="italic">E</text><text x="18.75" y="8.00" font-size="25.6" font-style="italic">B</text><text x="37.65" y="0.00" font-size="36">x</text><text x="53.88" y="0.00" font-size="36">10</text><text x="90.88" y="-14.40" font-size="25.6">2</text><text x="105.38" y="0.00" font-size="36">(MeV),</text><text x="221.00" y="0.00" font-size="36">R</text><text x="251.38" y="0.00" font-size="36">(km)</text></g>
</svg>
</body></html>
